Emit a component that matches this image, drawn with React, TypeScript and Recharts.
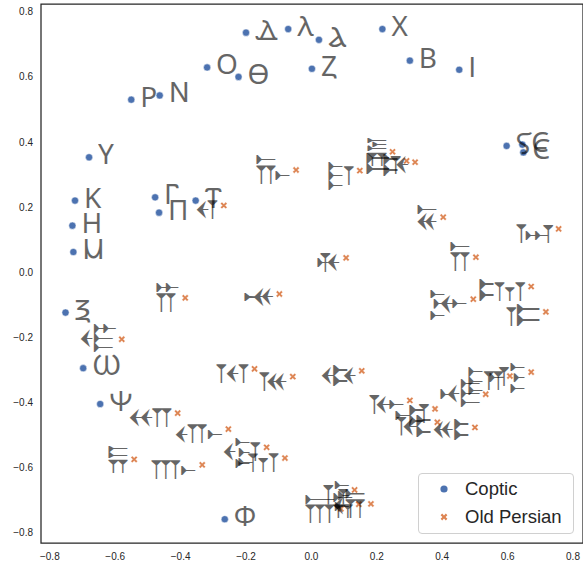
import React from "react";
import { ScatterChart, Scatter, XAxis, YAxis, ReferenceArea } from "recharts";

const copticLabels = ["Ⲇ","Ⲗ","Ⲁ","Ⲭ","Ⲟ","Ⲑ","Ⲍ","Ⲃ","Ⲓ","Ⲣ","Ⲛ","Ⲩ","Ⲋ","Ⲥ","Ⲉ","Ⲕ","Ⲏ","Ⲙ","Ⲅ","Ⲡ","Ⲧ","Ⲝ","Ⲱ","Ⲯ","Ⲫ"];
const copticX = [-0.200,-0.071,0.023,0.217,-0.319,-0.223,0.0015,0.301,0.452,-0.551,-0.464,-0.680,0.597,0.645,0.648,-0.723,-0.731,-0.728,-0.478,-0.466,-0.354,-0.752,-0.698,-0.646,-0.265];
const copticY = [0.736,0.747,0.714,0.747,0.629,0.600,0.625,0.650,0.622,0.530,0.543,0.353,0.388,0.392,0.368,0.220,0.143,0.062,0.230,0.183,0.220,-0.124,-0.295,-0.405,-0.759];

const persianLabels = ["𐎨","𐎼","𐎱","𐎲","𐎴","𐏁","𐏀","𐎩","𐎭","𐎫","𐎸","𐎣","𐏃","𐎺","𐎤","𐎡","𐎽","𐎦","𐎰","𐎳","𐎧","𐎥","𐎯","𐎶","𐏂","𐎬","𐎮","𐎪","𐎹","𐎾","𐎷","𐎵","𐎿","𐎠","𐎻","𐎢"];
const persianX = [-0.047,0.148,0.248,0.291,0.317,0.403,0.756,0.106,0.503,0.672,0.495,0.717,0.154,0.672,-0.268,-0.386,-0.098,-0.580,-0.174,-0.057,-0.409,-0.254,-0.137,-0.081,-0.542,-0.334,0.607,0.533,0.301,0.378,0.385,0.500,0.132,0.090,0.145,0.182];
const persianY = [0.314,0.312,0.370,0.342,0.338,0.169,0.133,0.044,0.046,-0.044,-0.083,-0.122,-0.303,-0.307,0.205,-0.079,-0.067,-0.206,-0.297,-0.321,-0.433,-0.482,-0.538,-0.571,-0.575,-0.592,-0.319,-0.375,-0.394,-0.420,-0.461,-0.477,-0.669,-0.727,-0.713,-0.712];

const tickValues = [-0.8,-0.6,-0.4,-0.2,0.0,0.2,0.4,0.6,0.8];
const xDomain = [-0.827, 0.8305];
const yDomain = [-0.832, 0.824];
const seriesNames = ["Coptic", "Old Persian"];

const coptic = copticLabels.map((l, i) => ({ x: copticX[i], y: copticY[i], label: l }));
const persian = persianLabels.map((l, i) => ({ x: persianX[i], y: persianY[i], label: l }));

const BLUE = "#4c72b0";
const ORANGE = "#dd8452";
const FONT = "'Liberation Sans', Arial, sans-serif";

const fmt = (v: number) => v.toFixed(1).replace("-", "\u2212");

const Dot = (p: any) => <circle cx={p.cx} cy={p.cy} r={3.6} fill={BLUE} stroke="#fff" strokeWidth={0.5} />;

const xPts = (() => {
  const w = 1.1, L = 3.7;
  const base = [[-w,L],[w,L],[w,w],[L,w],[L,-w],[w,-w],[w,-L],[-w,-L],[-w,-w],[-L,-w],[-L,w],[-w,w]];
  const c = Math.SQRT1_2;
  return base.map(([a, b]) => [(a - b) * c, (a + b) * c]);
})();

const Cross = (p: any) => (
  <polygon
    points={xPts.map(([a, b]) => `${p.cx + a},${p.cy + b}`).join(" ")}
    fill={ORANGE}
    stroke="#fff"
    strokeWidth={0.4}
  />
);

const CopticText = (p: any) => (
  <text x={p.cx + 9} y={p.cy + 7} textAnchor="start" fontSize={28} fill="#000" opacity={0.6} fontFamily="'Noto Sans Coptic', 'DejaVu Sans', sans-serif">
    {p.payload.label}
  </text>
);

const PersianText = (p: any) => (
  <text x={p.cx - 5} y={p.cy + 14} textAnchor="end" fontSize={36} fill="#000" opacity={0.6} fontFamily="sans-serif">
    {p.payload.label}
  </text>
);

const LegendBox = () => (
  <div style={{ position: "absolute", left: 418, top: 473, width: 156, height: 61, border: "1px solid #d0d0d0", borderRadius: 4, background: "rgba(255,255,255,0.8)", boxSizing: "border-box", fontFamily: FONT, fontSize: 18.5, color: "#262626" }}>
    <svg width={156} height={61} style={{ position: "absolute", left: -1, top: -1 }}>
      <circle cx={26} cy={16} r={3.6} fill={BLUE} />
      <polygon points={xPts.map(([a, b]) => `${26 + a},${44 + b}`).join(" ")} fill={ORANGE} />
    </svg>
    <div style={{ position: "absolute", left: 46, top: 3, lineHeight: "24px", whiteSpace: "nowrap" }}>{seriesNames[0]}</div>
    <div style={{ position: "absolute", left: 46, top: 31, lineHeight: "24px", whiteSpace: "nowrap" }}>{seriesNames[1]}</div>
  </div>
);

export default function App() {
  return (
    <div style={{ position: "absolute", left: 0, top: 0, width: 583, height: 564, overflow: "hidden", background: "#fff" }}>
      <ScatterChart width={600} height={564} margin={{ top: 4, right: 17, bottom: 0, left: 0 }}>
        <XAxis type="number" dataKey="x" domain={xDomain} ticks={tickValues} allowDataOverflow tickFormatter={fmt} tickLine={false} axisLine={false} height={21} tickMargin={4} tick={{ fill: "#262626", fontSize: 10, fontFamily: FONT }} />
        <YAxis type="number" dataKey="y" domain={yDomain} ticks={tickValues} allowDataOverflow tickFormatter={fmt} tickLine={false} axisLine={false} width={41} tick={{ fill: "#262626", fontSize: 10, fontFamily: FONT }} />
        <ReferenceArea x1={xDomain[0]} x2={xDomain[1]} y1={yDomain[0]} y2={yDomain[1]} fill="none" stroke="#262626" strokeWidth={1.25} ifOverflow="visible" />
        <Scatter name={seriesNames[0]} data={coptic} shape={Dot} isAnimationActive={false} />
        <Scatter name={seriesNames[1]} data={persian} shape={Cross} isAnimationActive={false} />
        <Scatter name="coptic-labels" data={coptic} shape={CopticText} legendType="none" isAnimationActive={false} />
        <Scatter name="persian-labels" data={persian} shape={PersianText} legendType="none" isAnimationActive={false} />
      </ScatterChart>
      <LegendBox />
    </div>
  );
}
